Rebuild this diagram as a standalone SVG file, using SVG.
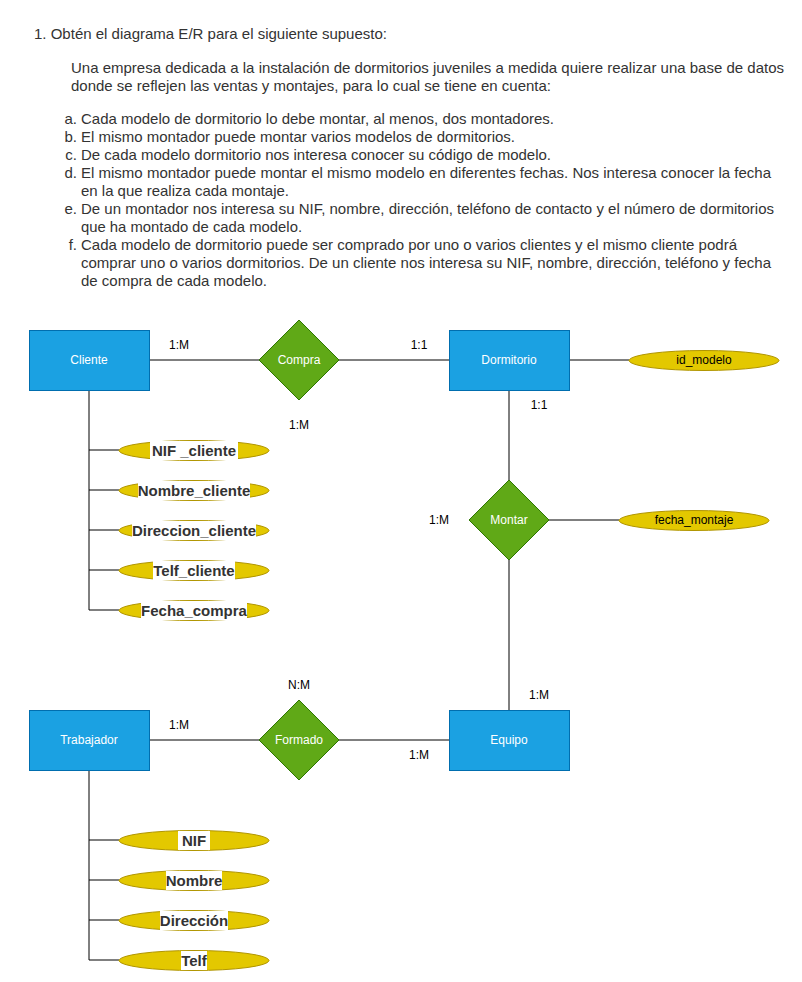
<svg xmlns="http://www.w3.org/2000/svg" width="802" height="982" viewBox="0 0 802 982">
<style>
.t{font-family:"Liberation Sans",Arial,sans-serif;font-size:15px;fill:#333333}
.ent{fill:#1ba1e2;stroke:#006eaf;stroke-width:1}
.rel{fill:#60a917;stroke:#2d7600;stroke-width:1}
.att{fill:#e3c800;stroke:#b09500;stroke-width:1}
.wl{font-family:"Liberation Sans",Arial,sans-serif;font-size:12px;fill:#ffffff;text-anchor:middle;dominant-baseline:central}
.bl{font-family:"Liberation Sans",Arial,sans-serif;font-size:12px;fill:#000000;text-anchor:middle;dominant-baseline:central}
.ba{font-family:"Liberation Sans",Arial,sans-serif;font-size:15px;font-weight:bold;fill:#333333;text-anchor:middle;dominant-baseline:central}
.bg{fill:#ffffff}
.ln{stroke:#000000;stroke-width:1;fill:none}
</style>
<rect width="802" height="982" fill="#ffffff"/>
<g id="enunciado">
<text class="t" x="34" y="39" textLength="353" lengthAdjust="spacingAndGlyphs">1. Obtén el diagrama E/R para el siguiente supuesto:</text>
<text class="t" x="71" y="73" textLength="713" lengthAdjust="spacingAndGlyphs">Una empresa dedicada a la instalación de dormitorios juveniles a medida quiere realizar una base de datos</text>
<text class="t" x="71" y="91" textLength="480" lengthAdjust="spacingAndGlyphs">donde se reflejen las ventas y montajes, para lo cual se tiene en cuenta:</text>
<g text-anchor="end">
<text class="t" x="77" y="124">a.</text>
<text class="t" x="77" y="142">b.</text>
<text class="t" x="77" y="160">c.</text>
<text class="t" x="77" y="178">d.</text>
<text class="t" x="77" y="214">e.</text>
<text class="t" x="77" y="250">f.</text>
</g>
<text class="t" x="81" y="124" textLength="473" lengthAdjust="spacingAndGlyphs">Cada modelo de dormitorio lo debe montar, al menos, dos montadores.</text>
<text class="t" x="81" y="142" textLength="434" lengthAdjust="spacingAndGlyphs">El mismo montador puede montar varios modelos de dormitorios.</text>
<text class="t" x="81" y="160" textLength="470" lengthAdjust="spacingAndGlyphs">De cada modelo dormitorio nos interesa conocer su código de modelo.</text>
<text class="t" x="81" y="178" textLength="690" lengthAdjust="spacingAndGlyphs">El mismo montador puede montar el mismo modelo en diferentes fechas. Nos interesa conocer la fecha</text>
<text class="t" x="81" y="196" textLength="208" lengthAdjust="spacingAndGlyphs">en la que realiza cada montaje.</text>
<text class="t" x="81" y="214" textLength="693" lengthAdjust="spacingAndGlyphs">De un montador nos interesa su NIF, nombre, dirección, teléfono de contacto y el número de dormitorios</text>
<text class="t" x="81" y="232" textLength="221" lengthAdjust="spacingAndGlyphs">que ha montado de cada modelo.</text>
<text class="t" x="81" y="250" textLength="656" lengthAdjust="spacingAndGlyphs">Cada modelo de dormitorio puede ser comprado por uno o varios clientes y el mismo cliente podrá</text>
<text class="t" x="81" y="268" textLength="690" lengthAdjust="spacingAndGlyphs">comprar uno o varios dormitorios. De un cliente nos interesa su NIF, nombre, dirección, teléfono y fecha</text>
<text class="t" x="81" y="286" textLength="186" lengthAdjust="spacingAndGlyphs">de compra de cada modelo.</text>
</g>
<g id="connectors">
<path class="ln" d="M149 360H259M339 360H449M569 360H629"/>
<path class="ln" d="M509 390V480M549 520H619M509 560V710"/>
<path class="ln" d="M149 740H259M339 740H449"/>
<path class="ln" d="M89 390V610M89 450H119M89 490H119M89 530H119M89 570H119M89 610H119"/>
<path class="ln" d="M89 770V960M89 840H119M89 880H119M89 920H119M89 960H119"/>
<text class="bl" x="179" y="345">1:M</text>
<text class="bl" x="419" y="345">1:1</text>
<text class="bl" x="299" y="425">1:M</text>
<text class="bl" x="539" y="405">1:1</text>
<text class="bl" x="439" y="520">1:M</text>
<text class="bl" x="539" y="695">1:M</text>
<text class="bl" x="299" y="685">N:M</text>
<text class="bl" x="179" y="725">1:M</text>
<text class="bl" x="419" y="755">1:M</text>
</g>
<g id="cliente"><rect class="ent" x="29.5" y="330.5" width="120" height="60"/><text class="wl" x="89" y="360">Cliente</text></g>
<g id="compra"><polygon class="rel" points="299,320 339,360 299,400 259,360"/><text class="wl" x="299" y="360">Compra</text></g>
<g id="dormitorio"><rect class="ent" x="449.5" y="330.5" width="120" height="60"/><text class="wl" x="509" y="360">Dormitorio</text></g>
<g id="id_modelo"><ellipse class="att" cx="704" cy="360.5" rx="75" ry="10"/><text class="bl" x="704" y="360">id_modelo</text></g>
<g id="montar"><polygon class="rel" points="509,480 549,520 509,560 469,520"/><text class="wl" x="509" y="520">Montar</text></g>
<g id="fecha_montaje"><ellipse class="att" cx="694" cy="520.5" rx="75" ry="10"/><text class="bl" x="694" y="520">fecha_montaje</text></g>
<g id="trabajador"><rect class="ent" x="29.5" y="710.5" width="120" height="60"/><text class="wl" x="89" y="740">Trabajador</text></g>
<g id="formado"><polygon class="rel" points="299,700 339,740 299,780 259,740"/><text class="wl" x="299" y="740">Formado</text></g>
<g id="equipo"><rect class="ent" x="449.5" y="710.5" width="120" height="60"/><text class="wl" x="509" y="740">Equipo</text></g>
<g id="nif_cliente"><ellipse class="att" cx="194" cy="450.5" rx="75" ry="10"/><rect class="bg" x="150" y="441" width="88" height="19"/><text class="ba" x="194" y="450.5">NIF _cliente</text></g>
<g id="nombre_cliente"><ellipse class="att" cx="194" cy="490.5" rx="75" ry="10"/><rect class="bg" x="138" y="481" width="112" height="19"/><text class="ba" x="194" y="490.5">Nombre_cliente</text></g>
<g id="direccion_cliente"><ellipse class="att" cx="194" cy="530.5" rx="75" ry="10"/><rect class="bg" x="132" y="521" width="124" height="19"/><text class="ba" x="194" y="530.5">Direccion_cliente</text></g>
<g id="telf_cliente"><ellipse class="att" cx="194" cy="570.5" rx="75" ry="10"/><rect class="bg" x="153" y="561" width="82" height="19"/><text class="ba" x="194" y="570.5">Telf_cliente</text></g>
<g id="fecha_compra"><ellipse class="att" cx="194" cy="610.5" rx="75" ry="10"/><rect class="bg" x="141" y="601" width="106" height="19"/><text class="ba" x="194" y="610.5">Fecha_compra</text></g>
<g id="nif"><ellipse class="att" cx="194" cy="840.5" rx="75" ry="10"/><rect class="bg" x="178" y="831" width="32" height="19"/><text class="ba" x="194" y="840.5">NIF</text></g>
<g id="nombre"><ellipse class="att" cx="194" cy="880.5" rx="75" ry="10"/><rect class="bg" x="166" y="871" width="56" height="19"/><text class="ba" x="194" y="880.5">Nombre</text></g>
<g id="direccion"><ellipse class="att" cx="194" cy="920.5" rx="75" ry="10"/><rect class="bg" x="160" y="911" width="68" height="19"/><text class="ba" x="194" y="920.5">Dirección</text></g>
<g id="telf"><ellipse class="att" cx="194" cy="960.5" rx="75" ry="10"/><rect class="bg" x="181" y="951" width="26" height="19"/><text class="ba" x="194" y="960.5">Telf</text></g>
</svg>
